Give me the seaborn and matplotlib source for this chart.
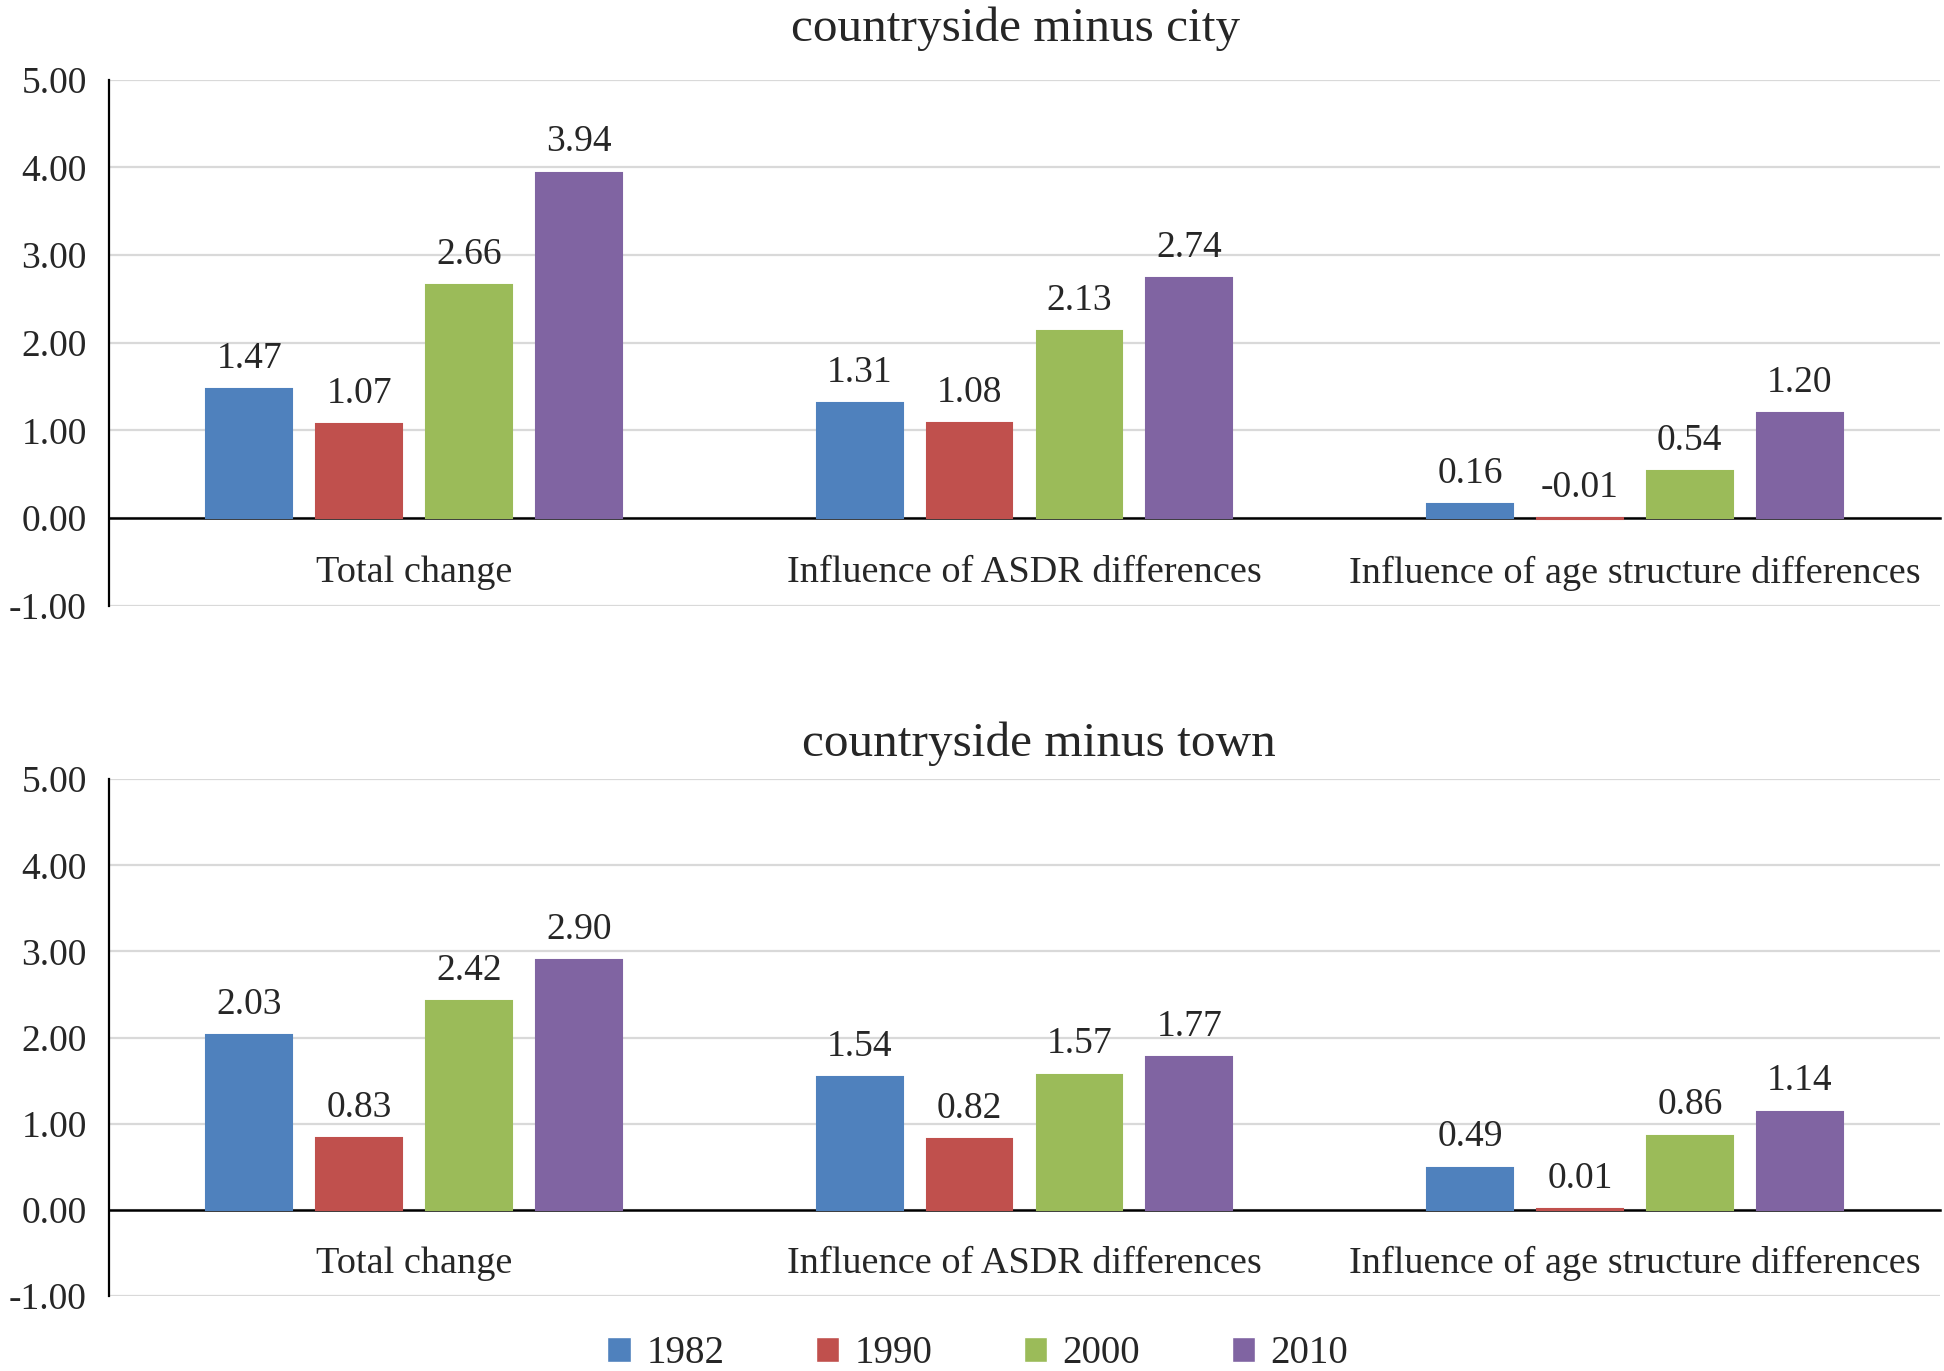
import pandas as pd
import matplotlib.pyplot as plt
import seaborn as sns
from matplotlib.patches import Patch

sns.set_style("white")
plt.rcParams['font.family'] = 'serif'
plt.rcParams['font.serif'] = ['Liberation Serif', 'DejaVu Serif']

categories = ["Total change", "Influence of ASDR differences", "Influence of age structure differences"]
years = ["1982", "1990", "2000", "2010"]
colors = ["#4F81BD", "#C0504D", "#9BBB59", "#8064A2"]

# values per year, in category order
city_1982 = [1.47, 1.31, 0.16]
city_1990 = [1.07, 1.08, -0.01]
city_2000 = [2.66, 2.13, 0.54]
city_2010 = [3.94, 2.74, 1.20]

town_1982 = [2.03, 1.54, 0.49]
town_1990 = [0.83, 0.82, 0.01]
town_2000 = [2.42, 1.57, 0.86]
town_2010 = [2.90, 1.77, 1.14]


def make_df(series):
    rows = []
    for yr, vals in zip(years, series):
        for cat, v in zip(categories, vals):
            rows.append({"category": cat, "year": yr, "value": v})
    return pd.DataFrame(rows)


city = make_df([city_1982, city_1990, city_2000, city_2010])
town = make_df([town_1982, town_1990, town_2000, town_2010])

fig = plt.figure(figsize=(19.44, 13.71), dpi=100)
ax1 = fig.add_axes([0.056, 0.558, 0.942, 0.384])
ax2 = fig.add_axes([0.056, 0.0547, 0.942, 0.377])

panels = [(ax1, city, "countryside minus city", 0.495, 28),
          (ax2, town, "countryside minus town", 0.508, 17)]

for ax, df, title, tx, tpad in panels:
    sns.barplot(data=df, x="category", y="value", hue="year", hue_order=years,
                order=categories, palette=colors, width=0.72, gap=0.22,
                saturation=1, legend=False, ax=ax)
    for cont in ax.containers:
        for bar in cont:
            bar.set_edgecolor(bar.get_facecolor())
            bar.set_linewidth(1.5)
            bar.set_zorder(3)
    ax.set_xlim(-0.5, 2.5)
    ax.set_ylim(-1, 5)
    ax.set_yticks(range(-1, 6))
    ax.set_yticklabels([f"{v:.2f}" for v in range(-1, 6)], fontsize=27)
    ax.yaxis.grid(True, color="#D9D9D9", lw=1.6)
    ax.set_axisbelow(True)
    ax.set_xlabel("")
    ax.set_ylabel("")
    for s in ["top", "right"]:
        ax.spines[s].set_visible(False)
    ax.spines["left"].set_color("black")
    ax.spines["left"].set_linewidth(1.6)
    ax.spines["bottom"].set_position(("data", 0))
    ax.spines["bottom"].set_color("black")
    ax.spines["bottom"].set_linewidth(1.8)
    ax.spines["bottom"].set_zorder(2.5)
    ax.set_xticks([0.5, 1.5, 2.5])
    ax.set_xticklabels(["", "", ""])
    ax.tick_params(axis="x", direction="in", length=11, width=1.6, color="black")
    ax.tick_params(axis="y", direction="in", length=10, width=1.6, color="black", pad=16)
    for i, cat in enumerate(categories):
        ax.text(i, -0.625, cat, ha="center", va="center", fontsize=27.5)
    for cont in ax.containers:
        for bar in cont:
            h = bar.get_height()
            ax.annotate(f"{h:.2f}", (bar.get_x() + bar.get_width() / 2, max(h, 0)),
                        xytext=(0, 22), textcoords="offset points",
                        ha="center", va="center", fontsize=27)
    ax.set_title(title, fontsize=35.5, pad=tpad, x=tx)

handles = [Patch(facecolor=c, label=y) for c, y in zip(colors, years)]
fig.legend(handles=handles, loc="center", bbox_to_anchor=(0.503, 0.0125), ncol=4,
           frameon=False, fontsize=28, handlelength=0.6, handleheight=0.6,
           handletextpad=0.4, columnspacing=2.35)

fig.savefig("out.png", dpi=100)
